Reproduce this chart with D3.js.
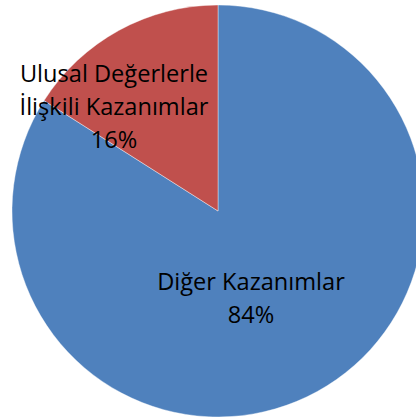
<!DOCTYPE html>
<html><head><meta charset="utf-8">
<script src="https://cdn.jsdelivr.net/npm/d3@7"></script>
<style>html,body{margin:0;padding:0;background:#fff;overflow:hidden}</style>
</head><body>
<svg id="c" width="416" height="418"></svg>
<script>
const categories = ["Diğer Kazanımlar", "Ulusal Değerlerle İlişkili Kazanımlar"];
const values = [84, 16];
const labelLines = [["Diğer Kazanımlar", "84%"], ["Ulusal Değerlerle", "İlişkili Kazanımlar", "16%"]];
const colors = ["#4F81BD", "#C0504D"];

const W = 416, H = 418, cx = 218, cy = 211, R = 206;
const svg = d3.select("#c");
const g = svg.append("g").attr("transform", `translate(${cx},${cy})`);
const pie = d3.pie().sort(null).value(d => d)(values);
const arc = d3.arc().innerRadius(0).outerRadius(R);
g.selectAll("path").data(pie).join("path")
  .attr("d", arc).attr("fill", (d, i) => colors[i])
  .attr("stroke", "#fff").attr("stroke-width", 0.4);

// label centers (relative to pie center)
const labelPos = [[33, 79], [-104, -129]];
const lh = 33;
pie.forEach((d, i) => {
  const lines = labelLines[i];
  const t = g.append("text")
    .attr("text-anchor", "middle")
    .attr("font-family", "'Open Sans', sans-serif")
    .attr("font-size", 23.6)
    .attr("fill", "#000");
  lines.forEach((ln, j) => {
    t.append("tspan").attr("x", labelPos[i][0])
      .attr("y", labelPos[i][1] + j * lh).text(ln);
  });
});
</script>
</body></html>
